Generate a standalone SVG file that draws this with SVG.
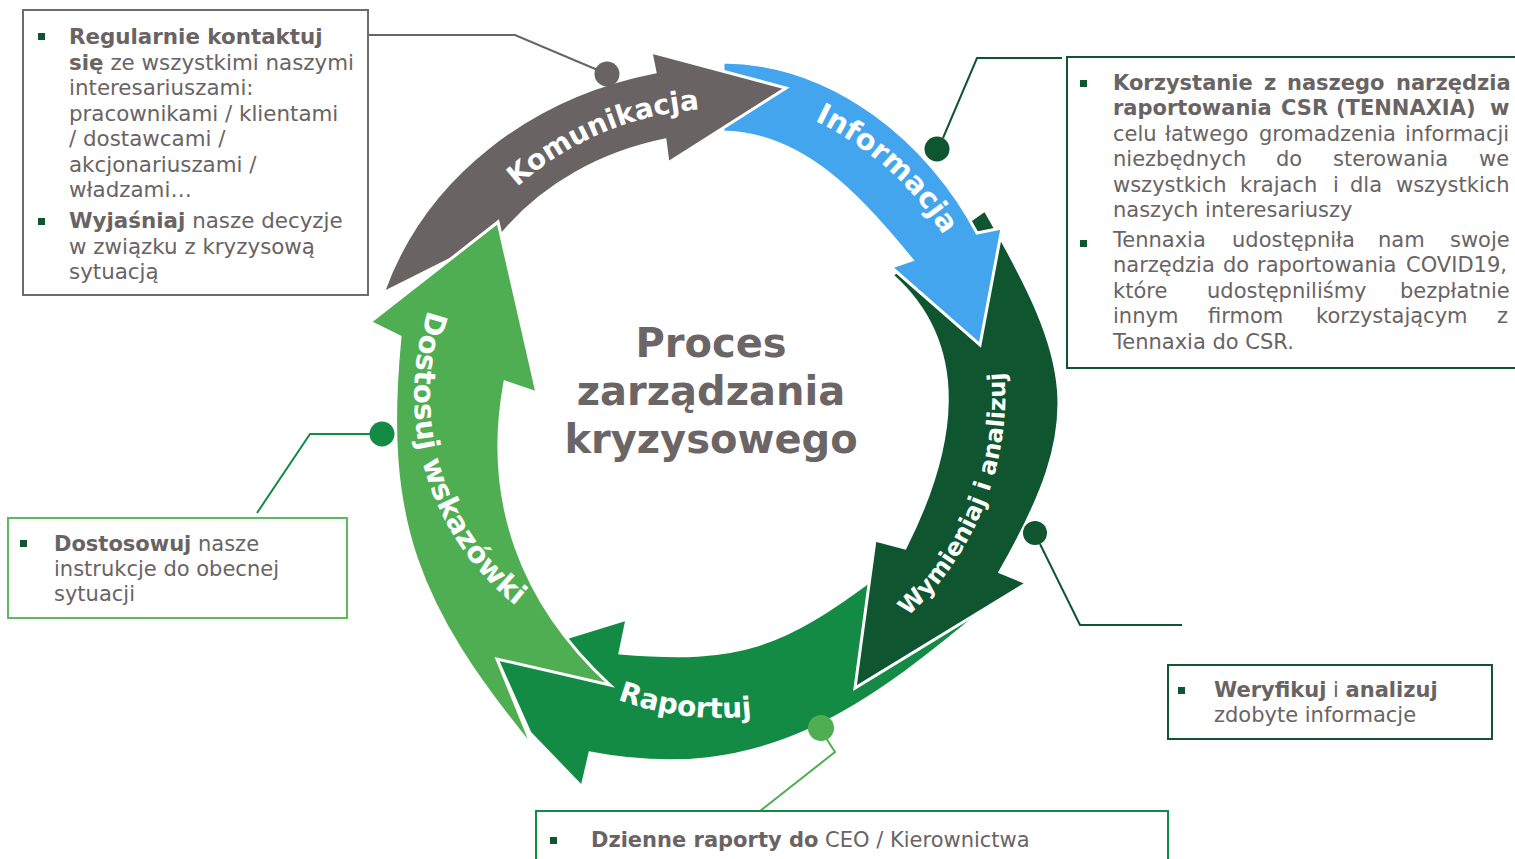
<svg xmlns="http://www.w3.org/2000/svg" width="1515" height="859" viewBox="0 0 1515 859">
<style>
.arr{stroke:#fff;stroke-width:3;stroke-linejoin:miter}
.lbl{font-family:"DejaVu Sans",Verdana,sans-serif;font-weight:bold;fill:#fff}
.box{fill:#fff;stroke-width:2}
.t{font-family:"DejaVu Sans",Verdana,sans-serif;font-size:21px;fill:#696463}
.b{font-weight:bold}
.bul{fill:#0F5530}
.ln{fill:none;stroke-width:2}
.title{font-family:"DejaVu Sans",Verdana,sans-serif;font-weight:bold;font-size:40px;fill:#6B6665;text-anchor:middle}
</style>
<defs>
<path id="p-kom" d="M 449,276 A 306 306 0 0 1 811,122"/>
<path id="p-inf" d="M 680,90 A 312 312 0 0 1 987,348"/>
<path id="p-wym" d="M 855,655 A 300 300 0 0 0 987,292"/>
<path id="p-rap" d="M 504,626 A 303 303 0 0 0 891,666"/>
<path id="p-dos" d="M 439,283 A 268 268 0 0 0 547,627"/>
</defs>

<g id="arrow-raportuj">
<path class="arr" fill="#148B44" d="M 1005,592 C 864,712 763,786 590,753 L 582,787 L 530,733 L 497,659 L 627,619 L 620,653 C 740,663 782,647 878,575 Z"/>
<text class="lbl" font-size="28"><textPath href="#p-rap" startOffset="48.5%" text-anchor="middle">Raportuj</textPath></text>
</g>
<g id="arrow-wymieniaj">
<path class="arr" fill="#0F5530" d="M 985,210 C 1073,364 1088,418 1000,572 L 1027,583 L 855,688 L 875,540 L 905,548 C 954,451 973,347 892,275 Z"/>
<text class="lbl" font-size="24"><textPath href="#p-wym" startOffset="48%" text-anchor="middle">Wymieniaj i analizuj</textPath></text>
</g>
<g id="arrow-informacja">
<path class="arr" fill="#42A5EE" d="M 723,62 C 835,63 930,143 977,233 L 1002,228 L 980,345 L 891,267 L 912,260 C 862,198 803,133 723,132 Z"/>
<text class="lbl" font-size="29"><textPath href="#p-inf" startOffset="52%" text-anchor="middle">Informacja</textPath></text>
</g>
<g id="arrow-komunikacja">
<path class="arr" fill="#696463" d="M 383,293 C 425,175 532,96 655,72 L 651,52 L 786,88 L 668,163 L 665,140 C 602,153 544,184 503,233 Z"/>
<text class="lbl" font-size="28"><textPath href="#p-kom" startOffset="50%" text-anchor="middle">Komunikacja</textPath></text>
</g>
<g id="arrow-dostosuj">
<path class="arr" fill="#4EAE51" d="M 533,748 C 417,606 382,521 400,337 L 370,322 L 498,222 L 537,393 L 505,382 C 483,500 521,603 610,685 L 497,659 Z"/>
<text class="lbl" font-size="29"><textPath href="#p-dos" startOffset="49%" text-anchor="middle">Dostosuj wskazówki</textPath></text>
</g>

<g id="title">
<text class="title"><tspan x="711" y="357">Proces</tspan><tspan x="711" y="405">zarządzania</tspan><tspan x="711" y="453">kryzysowego</tspan></text>
</g>

<g id="connectors">
<polyline class="ln" stroke="#696463" points="368,35 515,35 600,71"/>
<circle cx="607" cy="74" r="12.5" fill="#696463"/>
<polyline class="ln" stroke="#0F5530" points="943,138 977,58 1062,58"/>
<circle cx="937" cy="149" r="12.5" fill="#0F5530"/>
<polyline class="ln" stroke="#0F5530" points="1040,544 1080,625 1182,625"/>
<circle cx="1035" cy="533" r="12" fill="#0F5530"/>
<polyline class="ln" stroke="#4EAE51" points="826,738 835,752 760,811"/>
<circle cx="821" cy="728" r="13" fill="#4EAE51"/>
<polyline class="ln" stroke="#148B44" points="372,434 310,434 257,513"/>
<circle cx="382" cy="434" r="12.5" fill="#148B44"/>
</g>

<g id="box-komunikacja">
<rect class="box" x="23" y="10" width="345" height="285" stroke="#6F6B6A"/>
<rect class="bul" x="38" y="33" width="7" height="7"/>
<rect class="bul" x="38" y="218" width="7" height="7"/>
<text class="t" style="font-size:21.4px">
<tspan x="69" y="44" class="b">Regularnie kontaktuj</tspan>
<tspan x="69" y="69.5"><tspan class="b">się</tspan> ze wszystkimi naszymi</tspan>
<tspan x="69" y="95">interesariuszami:</tspan>
<tspan x="69" y="120.5">pracownikami / klientami</tspan>
<tspan x="69" y="146">/ dostawcami /</tspan>
<tspan x="69" y="171.5">akcjonariuszami /</tspan>
<tspan x="69" y="197">władzami…</tspan>
<tspan x="69" y="228"><tspan class="b">Wyjaśniaj</tspan> nasze decyzje</tspan>
<tspan x="69" y="253.5">w związku z kryzysową</tspan>
<tspan x="69" y="279">sytuacją</tspan>
</text>
</g>

<g id="box-informacja">
<rect class="box" x="1067" y="57" width="470" height="311" stroke="#0F5530"/>
<rect class="bul" x="1080" y="80" width="7" height="7"/>
<rect class="bul" x="1080" y="240" width="7" height="7"/>
<text class="t">
<tspan class="b" x="1113" y="90">Korzystanie</tspan><tspan class="b" x="1264">z</tspan><tspan class="b" x="1287">naszego</tspan><tspan class="b" x="1396">narzędzia</tspan>
<tspan class="b" x="1113" y="115.4">raportowania</tspan><tspan class="b" x="1281">CSR</tspan><tspan class="b" x="1336">(TENNAXIA)</tspan><tspan class="b" x="1490">w</tspan>
<tspan x="1113" y="140.8">celu</tspan><tspan x="1165">łatwego</tspan><tspan x="1259">gromadzenia</tspan><tspan x="1405">informacji</tspan>
<tspan x="1113" y="166.2">niezbędnych</tspan><tspan x="1276">do</tspan><tspan x="1333">sterowania</tspan><tspan x="1479">we</tspan>
<tspan x="1113" y="191.6">wszystkich</tspan><tspan x="1240">krajach</tspan><tspan x="1333">i</tspan><tspan x="1350">dla</tspan><tspan x="1396">wszystkich</tspan>
<tspan x="1113" y="217">naszych interesariuszy</tspan>
<tspan x="1113" y="247">Tennaxia</tspan><tspan x="1232">udostępniła</tspan><tspan x="1378">nam</tspan><tspan x="1450">swoje</tspan>
<tspan x="1113" y="272.4">narzędzia</tspan><tspan x="1223">do</tspan><tspan x="1257">raportowania</tspan><tspan x="1406">COVID19,</tspan>
<tspan x="1113" y="297.8">które</tspan><tspan x="1207">udostępniliśmy</tspan><tspan x="1400">bezpłatnie</tspan>
<tspan x="1113" y="323.2">innym</tspan><tspan x="1208">firmom</tspan><tspan x="1316">korzystającym</tspan><tspan x="1497">z</tspan>
<tspan x="1113" y="348.6">Tennaxia do CSR.</tspan>
</text>
</g>

<g id="box-dostosuj">
<rect class="box" x="8" y="518" width="339" height="100" stroke="#5DB85F"/>
<rect class="bul" x="20" y="540" width="7" height="7"/>
<text class="t">
<tspan x="54" y="551"><tspan class="b">Dostosowuj</tspan> nasze</tspan>
<tspan x="54" y="576">instrukcje do obecnej</tspan>
<tspan x="54" y="601">sytuacji</tspan>
</text>
</g>

<g id="box-wymieniaj">
<rect class="box" x="1168" y="665" width="324" height="74" stroke="#0F5530"/>
<rect class="bul" x="1178" y="687" width="7" height="7"/>
<text class="t">
<tspan x="1214" y="697"><tspan class="b">Weryfikuj</tspan> i <tspan class="b">analizuj</tspan></tspan>
<tspan x="1214" y="722">zdobyte informacje</tspan>
</text>
</g>

<g id="box-raportuj">
<rect class="box" x="536" y="811" width="632" height="60" stroke="#148B44"/>
<rect class="bul" x="550" y="837" width="7" height="7"/>
<text class="t" x="591" y="847"><tspan class="b">Dzienne raporty do</tspan> CEO / Kierownictwa</text>
</g>
</svg>
